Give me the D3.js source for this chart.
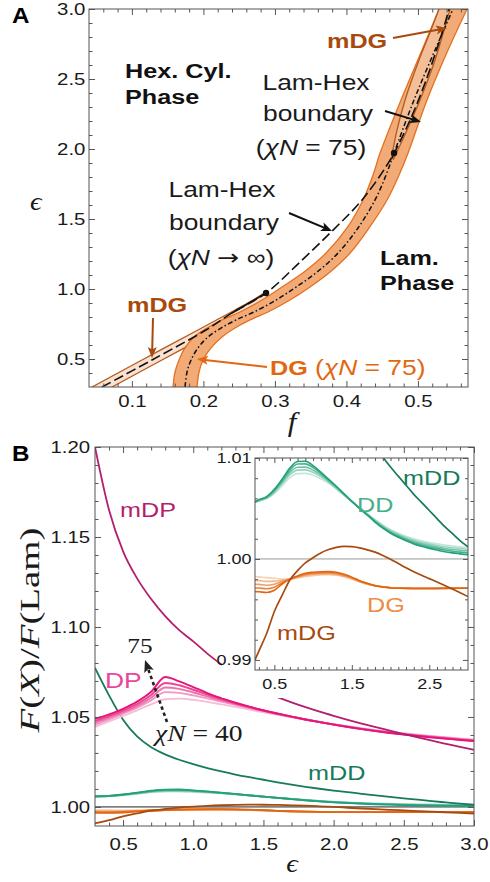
<!DOCTYPE html>
<html><head><meta charset="utf-8">
<script src="https://cdn.jsdelivr.net/npm/d3@7"></script>
<style>body{margin:0;background:#fff}</style>
</head><body>
<svg id="fig" width="490" height="882"></svg>
<script>
// ---------------- Panel A: phase diagram in (f, eps) ----------------
// DG (chiN = 75) stability band: eps levels with left/right bounds in f
const dgEps   = [0.300, 0.407, 0.493, 0.579, 0.657, 0.721, 0.779, 0.836, 0.921, 1.014, 1.121, 1.257, 1.436, 1.636, 1.814, 1.971, 2.350, 2.707, 3.000];
const dgLeft  = [0.1575, 0.1603, 0.1659, 0.1742, 0.1868, 0.2050, 0.2260, 0.2512, 0.2819, 0.3099, 0.3407, 0.3715, 0.4008, 0.4232, 0.4372, 0.4470, 0.4763, 0.5057, 0.5295];
const dgRight = [0.1911, 0.1939, 0.1995, 0.2106, 0.2260, 0.2442, 0.2652, 0.2904, 0.3211, 0.3491, 0.3771, 0.4051, 0.4316, 0.4568, 0.4736, 0.4862, 0.5127, 0.5421, 0.5687];
// Lam-Hex boundary at chiN = 75 (same eps levels)
const lamHex75F = [0.1743, 0.1771, 0.1827, 0.1924, 0.2064, 0.2246, 0.2456, 0.2708, 0.3015, 0.3295, 0.3589, 0.3883, 0.4162, 0.4400, 0.4554, 0.4666, 0.4945, 0.5239, 0.5491];
// Lam-Hex boundary for chiN -> infinity
const lamHexInfEps = [0.300, 0.493, 0.707, 0.829, 0.971, 1.193, 1.421, 1.636, 1.921, 2.207, 2.471, 2.829, 3.000];
const lamHexInfF   = [0.0582, 0.1281, 0.2036, 0.2400, 0.2876, 0.3351, 0.3813, 0.4218, 0.4610, 0.4890, 0.5099, 0.5337, 0.5435];
// mDG bands (lower-left and upper-right)
const mdgLowEps   = [0.300, 0.493, 0.707, 0.850, 0.921, 0.971];
const mdgLowLeft  = [0.0442, 0.1141, 0.1924, 0.2442, 0.2694, 0.2848];
const mdgLowRight = [0.0722, 0.1421, 0.2204, 0.2722, 0.2876, 0.2904];
const mdgHighEps   = [1.921, 2.136, 2.350, 2.636, 2.850, 3.000];
const mdgHighLeft  = [0.4624, 0.4708, 0.4820, 0.5015, 0.5183, 0.5295];
const mdgHighRight = [0.4652, 0.4848, 0.5029, 0.5239, 0.5365, 0.5449];
// marked points on the boundaries
const markF   = [0.2876, 0.4666];
const markEps = [0.971, 1.971];

// ---------------- Panel B: free energy ratios vs eps ----------------
const epsMain = [0.3,0.4,0.5,0.6,0.7,0.8,0.9,1.0,1.1,1.2,1.3,1.4,1.5,1.6,1.7,1.8,1.9,2.0,2.1,2.2,2.3,2.4,2.5,2.6,2.7,2.8,2.9,3.0];
const epsFull = [0.25,0.3,0.4,0.5,0.6,0.7,0.8,0.9,1.0,1.1,1.2,1.3,1.4,1.5,1.6,1.7,1.8,1.9,2.0,2.1,2.2,2.3,2.4,2.5,2.6,2.7,2.8,2.9,3.0];

const mDP = [1.2000, 1.1650, 1.1420, 1.1270, 1.1155, 1.1060, 1.0982, 1.0920, 1.0852, 1.0792, 1.0738, 1.0688, 1.0642, 1.0610, 1.0581, 1.0554, 1.0529, 1.0506, 1.0484, 1.0463, 1.0443, 1.0424, 1.0405, 1.0386, 1.0368, 1.0351, 1.0334, 1.0317];
// DP, chiN from 75 (first) down to 40 (last)
const DP = [
  [1.0489, 1.0514, 1.0545, 1.0585, 1.0640, 1.0722, 1.0698, 1.0666, 1.0633, 1.0604, 1.0579, 1.0557, 1.0537, 1.0519, 1.0502, 1.0486, 1.0471, 1.0457, 1.0444, 1.0432, 1.0421, 1.0411, 1.0402, 1.0394, 1.0386, 1.0379, 1.0372, 1.0366],
  [1.0478, 1.0505, 1.0535, 1.0572, 1.0622, 1.0689, 1.0676, 1.0651, 1.0624, 1.0599, 1.0576, 1.0555, 1.0536, 1.0518, 1.0502, 1.0486, 1.0472, 1.0458, 1.0445, 1.0433, 1.0422, 1.0412, 1.0403, 1.0395, 1.0388, 1.0381, 1.0374, 1.0368],
  [1.0467, 1.0496, 1.0527, 1.0562, 1.0607, 1.0664, 1.0656, 1.0636, 1.0614, 1.0592, 1.0572, 1.0552, 1.0534, 1.0517, 1.0501, 1.0486, 1.0472, 1.0459, 1.0446, 1.0434, 1.0423, 1.0413, 1.0405, 1.0397, 1.0390, 1.0383, 1.0376, 1.0370],
  [1.0456, 1.0486, 1.0518, 1.0552, 1.0592, 1.0638, 1.0634, 1.0620, 1.0603, 1.0585, 1.0567, 1.0549, 1.0532, 1.0516, 1.0501, 1.0486, 1.0472, 1.0459, 1.0447, 1.0435, 1.0425, 1.0415, 1.0407, 1.0399, 1.0392, 1.0385, 1.0378, 1.0372],
  [1.0444, 1.0475, 1.0506, 1.0537, 1.0570, 1.0598, 1.0602, 1.0595, 1.0584, 1.0570, 1.0556, 1.0541, 1.0526, 1.0512, 1.0498, 1.0484, 1.0471, 1.0459, 1.0448, 1.0437, 1.0427, 1.0417, 1.0409, 1.0401, 1.0394, 1.0387, 1.0380, 1.0374]
];
const mDD = [1.0772, 1.0620, 1.0485, 1.0392, 1.0332, 1.0292, 1.0262, 1.0238, 1.0216, 1.0197, 1.0180, 1.0165, 1.0151, 1.0137, 1.0124, 1.0112, 1.0101, 1.0091, 1.0082, 1.0073, 1.0064, 1.0056, 1.0048, 1.0040, 1.0032, 1.0025, 1.0018, 1.0012];
// DD, chiN from 75 down to 40 (on epsFull)
const DD = [
  [1.00567, 1.00585, 1.00617, 1.00690, 1.00790, 1.00900, 1.00965, 1.00968, 1.00925, 1.00860, 1.00790, 1.00720, 1.00645, 1.00570, 1.00500, 1.00435, 1.00365, 1.00305, 1.00255, 1.00215, 1.00180, 1.00148, 1.00125, 1.00105, 1.00088, 1.00072, 1.00060, 1.00050, 1.00040],
  [1.00565, 1.00583, 1.00612, 1.00680, 1.00775, 1.00880, 1.00940, 1.00942, 1.00905, 1.00848, 1.00782, 1.00715, 1.00642, 1.00570, 1.00502, 1.00438, 1.00370, 1.00312, 1.00263, 1.00224, 1.00190, 1.00160, 1.00137, 1.00118, 1.00102, 1.00088, 1.00077, 1.00068, 1.00060],
  [1.00563, 1.00580, 1.00607, 1.00670, 1.00760, 1.00858, 1.00908, 1.00910, 1.00880, 1.00832, 1.00772, 1.00708, 1.00638, 1.00570, 1.00505, 1.00442, 1.00377, 1.00320, 1.00272, 1.00234, 1.00201, 1.00173, 1.00150, 1.00132, 1.00117, 1.00104, 1.00094, 1.00086, 1.00078],
  [1.00561, 1.00577, 1.00602, 1.00660, 1.00745, 1.00835, 1.00880, 1.00882, 1.00858, 1.00815, 1.00762, 1.00700, 1.00634, 1.00570, 1.00508, 1.00446, 1.00384, 1.00328, 1.00281, 1.00244, 1.00212, 1.00186, 1.00164, 1.00147, 1.00133, 1.00121, 1.00111, 1.00103, 1.00096],
  [1.00558, 1.00572, 1.00595, 1.00648, 1.00725, 1.00805, 1.00845, 1.00848, 1.00830, 1.00795, 1.00750, 1.00692, 1.00630, 1.00570, 1.00511, 1.00450, 1.00392, 1.00338, 1.00291, 1.00255, 1.00224, 1.00199, 1.00179, 1.00162, 1.00149, 1.00138, 1.00128, 1.00120, 1.00112]
];
// DG, chiN from 75 down to 40 (on epsFull)
const DG = [
  [0.99676, 0.99675, 0.99668, 0.99690, 0.99752, 0.99800, 0.99832, 0.99858, 0.99868, 0.99873, 0.99874, 0.99868, 0.99848, 0.99820, 0.99785, 0.99759, 0.99736, 0.99723, 0.99713, 0.99710, 0.99709, 0.99708, 0.99708, 0.99708, 0.99708, 0.99709, 0.99709, 0.99710, 0.99710],
  [0.99713, 0.99712, 0.99705, 0.99720, 0.99765, 0.99800, 0.99827, 0.99850, 0.99860, 0.99865, 0.99866, 0.99860, 0.99840, 0.99815, 0.99782, 0.99756, 0.99735, 0.99723, 0.99714, 0.99711, 0.99709, 0.99708, 0.99708, 0.99708, 0.99709, 0.99709, 0.99710, 0.99710, 0.99711],
  [0.99750, 0.99748, 0.99740, 0.99750, 0.99778, 0.99800, 0.99822, 0.99842, 0.99852, 0.99857, 0.99858, 0.99852, 0.99833, 0.99810, 0.99778, 0.99753, 0.99735, 0.99723, 0.99715, 0.99712, 0.99710, 0.99709, 0.99709, 0.99709, 0.99709, 0.99710, 0.99710, 0.99711, 0.99711],
  [0.99786, 0.99785, 0.99778, 0.99780, 0.99790, 0.99800, 0.99817, 0.99833, 0.99843, 0.99849, 0.99850, 0.99845, 0.99828, 0.99805, 0.99775, 0.99752, 0.99734, 0.99723, 0.99715, 0.99712, 0.99710, 0.99709, 0.99709, 0.99709, 0.99709, 0.99710, 0.99710, 0.99711, 0.99712],
  [0.99825, 0.99822, 0.99815, 0.99808, 0.99802, 0.99800, 0.99812, 0.99825, 0.99835, 0.99841, 0.99843, 0.99838, 0.99822, 0.99800, 0.99772, 0.99750, 0.99734, 0.99723, 0.99716, 0.99713, 0.99711, 0.99710, 0.99710, 0.99710, 0.99710, 0.99710, 0.99711, 0.99711, 0.99712]
];
const mDG = [0.99000, 0.99087, 0.99261, 0.99480, 0.99640, 0.99792, 0.99885, 0.99962, 1.00012, 1.00060, 1.00093, 1.00115, 1.00124, 1.00122, 1.00110, 1.00090, 1.00068, 1.00035, 0.99998, 0.99955, 0.99912, 0.99873, 0.99838, 0.99805, 0.99772, 0.99738, 0.99702, 0.99665, 0.99627];

// ---------------- styling ----------------
const SANS = "'Liberation Sans', Arial, Helvetica, sans-serif";
const SERIF = "'Liberation Serif', 'Times New Roman', 'DejaVu Serif', serif";
const SX = 1.2;   // horizontal text stretch
const C = {
  mDP: '#b41e6e', DP: ['#e6157c', '#ea4592', '#ee70aa', '#f397c2', '#f7bcd8'], dpText: '#e8489a',
  mDD: '#177a5c', DD: ['#22a07c', '#48b192', '#71c3a8', '#9ad4bf', '#c3e6d8'], ddText: '#4aae8c',
  mDG: '#a84a0d', DG: ['#e2650f', '#e9833d', '#ee9e65', '#f3b98e', '#f7d1b2'], dgText: '#ef8b45',
  bandFill: '#f2ab76', bandEdge: '#e5701f', lowFill: '#f9e0cf', mdgEdge: '#b35a1e', dgA: '#e3670f'
};

const svg = d3.select('#fig');
const defs = svg.append('defs');
function clip(id, x, y, w, h) {
  defs.append('clipPath').attr('id', id).append('rect').attr('x', x).attr('y', y).attr('width', w).attr('height', h);
  return `url(#${id})`;
}

// parts: plain string, or list of [text, italic, fontFamily?]
function label(g, x, y, parts, o = {}) {
  const t = g.append('text')
    .attr('transform', `translate(${x},${y}) scale(${o.sx ?? SX},1)`)
    .attr('text-anchor', o.anchor || 'start')
    .attr('font-family', o.family || SANS)
    .attr('font-size', o.size || 21)
    .attr('font-weight', o.weight || 'normal')
    .attr('fill', o.color || '#1a1a1a');
  if (typeof parts === 'string') t.text(parts);
  else parts.forEach(([s, it, fam]) => t.append('tspan')
    .attr('font-style', it ? 'italic' : null).attr('font-family', fam || null).text(s));
  return t;
}

function arrow(g, x1, y1, x2, y2, color, o = {}) {
  const w = o.width || 2, L = o.head || 11, H = o.half || 4.5;
  const a = Math.atan2(y2 - y1, x2 - x1), ca = Math.cos(a), sa = Math.sin(a);
  const bx = x2 - L * ca, by = y2 - L * sa, px = -sa, py = ca;
  g.append('line').attr('x1', x1).attr('y1', y1).attr('x2', bx + 3 * ca).attr('y2', by + 3 * sa)
    .attr('stroke', color).attr('stroke-width', w).attr('stroke-dasharray', o.dash || null);
  g.append('path')
    .attr('d', `M${x2},${y2}L${bx + H * px},${by + H * py}L${bx + 2.5 * ca},${by + 2.5 * sa}L${bx - H * px},${by - H * py}Z`)
    .attr('fill', color);
}

function frame(g, x, y, c) {
  const [x0, x1] = x.range(), [yb, yt] = y.range();
  const style = s => { s.select('.domain').remove(); s.attr('color', '#555'); };
  const add = (axis, tx, ty) => g.append('g').attr('transform', `translate(${tx},${ty})`).call(axis).call(style);
  add(d3.axisBottom(x).tickValues(c.xMinor).tickSize(-c.minor).tickFormat(''), 0, yb);
  add(d3.axisTop(x).tickValues(c.xMinor).tickSize(-c.minor).tickFormat(''), 0, yt);
  add(d3.axisLeft(y).tickValues(c.yMinor).tickSize(-c.minor).tickFormat(''), x0, 0);
  add(d3.axisRight(y).tickValues(c.yMinor).tickSize(-c.minor).tickFormat(''), x1, 0);
  const xb = add(d3.axisBottom(x).tickValues(c.xMajor).tickSize(-c.major).tickPadding(c.xPad).tickFormat(c.xFmt), 0, yb);
  add(d3.axisTop(x).tickValues(c.xMajor).tickSize(-c.major).tickFormat(''), 0, yt);
  const yl = add(d3.axisLeft(y).tickValues(c.yMajor).tickSize(-c.major).tickPadding(c.yPad).tickFormat(c.yFmt), x0, 0);
  add(d3.axisRight(y).tickValues(c.yMajor).tickSize(-c.major).tickFormat(''), x1, 0);
  [xb, yl].forEach(a => a.selectAll('text').attr('fill', '#1a1a1a').attr('font-family', SANS)
    .attr('font-size', c.font).attr('transform', `scale(${SX},1)`));
  g.append('rect').attr('x', x0).attr('y', yt).attr('width', x1 - x0).attr('height', yb - yt)
    .attr('fill', 'none').attr('stroke', '#555').attr('stroke-width', 1);
}
const stepList = (a, b, s) => d3.range(Math.round((b - a) / s) + 1).map(i => +(a + i * s).toFixed(4));
const notIn = major => v => !major.some(m => Math.abs(m - v) < 1e-6);

// ======================= Panel A =======================
const xA = d3.scaleLinear().domain([0.04, 0.57]).range([89, 468]);
const yA = d3.scaleLinear().domain([0.3, 3.0]).range([387, 9]);
const gA = svg.append('g');
const plotA = gA.append('g').attr('clip-path', clip('clipA', 89, 9, 379, 378));

const band = (eps, lo, hi) => eps.map((e, i) => ({ e, l: lo[i], r: hi[i] }));
const vArea = d3.area().curve(d3.curveCatmullRom).y(d => yA(d.e)).x0(d => xA(d.l)).x1(d => xA(d.r));
const vLine = key => d3.line().curve(d3.curveCatmullRom).y(d => yA(d.e)).x(d => xA(d[key]));

function drawBand(data, fill, edge, op = 1) {
  plotA.append('path').datum(data).attr('d', vArea).attr('fill', fill).attr('fill-opacity', op);
  ['l', 'r'].forEach(k => plotA.append('path').datum(data).attr('d', vLine(k))
    .attr('fill', 'none').attr('stroke', edge).attr('stroke-width', 1.3));
}
drawBand(band(mdgLowEps, mdgLowLeft, mdgLowRight), C.lowFill, C.mdgEdge);
drawBand(band(dgEps, dgLeft, dgRight), C.bandFill, C.bandEdge);
drawBand(band(mdgHighEps, mdgHighLeft, mdgHighRight), '#f4c29c', C.mdgEdge, 0.85);

const ptLine = d3.line().curve(d3.curveCatmullRom).x(d => xA(d.f)).y(d => yA(d.e));
const infPts = lamHexInfEps.map((e, i) => ({ e, f: lamHexInfF[i] }));
plotA.append('path').datum(infPts).attr('d', ptLine).attr('fill', 'none')
  .attr('stroke', '#111').attr('stroke-width', 1.6).attr('stroke-dasharray', '10,4');
plotA.append('path').datum(infPts.filter(d => d.e >= 0.82 && d.e <= 0.98)).attr('d', ptLine).attr('fill', 'none')
  .attr('stroke', '#111').attr('stroke-width', 1.6);
plotA.append('path').datum(dgEps.map((e, i) => ({ e, f: lamHex75F[i] }))).attr('d', ptLine).attr('fill', 'none')
  .attr('stroke', '#111').attr('stroke-width', 1.5).attr('stroke-dasharray', '5,2.5,1.5,2.5');
plotA.selectAll('circle.mark').data(markF).join('circle').attr('class', 'mark')
  .attr('cx', d => xA(d)).attr('cy', (d, i) => yA(markEps[i])).attr('r', 3.2).attr('fill', '#111');

frame(gA, xA, yA, {
  xMajor: [0.1, 0.2, 0.3, 0.4, 0.5], xMinor: stepList(0.06, 0.56, 0.02).filter(notIn([0.1, 0.2, 0.3, 0.4, 0.5])),
  yMajor: [0.5, 1.0, 1.5, 2.0, 2.5, 3.0], yMinor: stepList(0.4, 2.9, 0.1).filter(notIn([0.5, 1, 1.5, 2, 2.5])),
  major: 6, minor: 3.5, xPad: 8, yPad: 3, xFmt: d3.format('.1f'), yFmt: d3.format('.1f'), font: 17
});

label(gA, 12, 23, 'A', { weight: 'bold', size: 22, sx: 1.1, color: '#000' });
label(gA, 30, 210, [['ϵ', true]], { family: SERIF, size: 26, sx: 1.1 });
label(gA, 292, 431, [['f', true]], { family: SERIF, size: 28, anchor: 'middle', sx: 1.1 });

label(gA, 125, 78, 'Hex. Cyl.', { weight: 'bold', size: 21, color: '#111' });
label(gA, 125, 104, 'Phase', { weight: 'bold', size: 21, color: '#111' });
label(gA, 380, 265, 'Lam.', { weight: 'bold', size: 21, color: '#111' });
label(gA, 380, 290, 'Phase', { weight: 'bold', size: 21, color: '#111' });

label(gA, 316, 90, 'Lam-Hex', { anchor: 'middle', size: 22 });
label(gA, 318, 121, 'boundary', { anchor: 'middle', size: 22 });
label(gA, 311, 155, [['(', 0], ['χN', 1], [' = 75)', 0]], { anchor: 'middle', size: 22 });
arrow(gA, 385, 111, 421, 122, '#111');

label(gA, 222, 197, 'Lam-Hex', { anchor: 'middle', size: 22 });
label(gA, 224, 230, 'boundary', { anchor: 'middle', size: 22 });
label(gA, 221, 265, [['(', 0], ['χN', 1], [' ', 0], ['→', 0, "'DejaVu Sans', sans-serif"], [' ∞)', 0]], { anchor: 'middle', size: 22 });
arrow(gA, 289, 213, 332, 231, '#111');

label(gA, 327, 48, 'mDG', { weight: 'bold', color: C.mDG });
arrow(gA, 393, 38, 447, 28, C.mDG);
label(gA, 127, 312, 'mDG', { weight: 'bold', color: C.mDG });
arrow(gA, 153, 318, 152, 358, C.mDG);
label(gA, 270, 375, 'DG', { weight: 'bold', color: C.dgA });
label(gA, 315, 375, [['(', 0], ['χN', 1], [' = 75)', 0]], { color: C.dgA, size: 22 });
arrow(gA, 267, 367, 197, 359, C.dgA);

// ======================= Panel B =======================
const xB = d3.scaleLinear().domain([0.3, 3.0]).range([95, 474]);
const yB = d3.scaleLinear().domain([0.9894, 1.2]).range([826, 447]);
const gB = svg.append('g');
const plotB = gB.append('g').attr('clip-path', clip('clipB', 95, 447, 379, 379));
const lineB = eps => d3.line().curve(d3.curveMonotoneX).x((d, i) => xB(eps[i])).y(d => yB(d));

plotB.append('line').attr('x1', 95).attr('x2', 474).attr('y1', yB(1)).attr('y2', yB(1))
  .attr('stroke', '#222').attr('stroke-width', 1);
function curves(g, ln, sets, colors, w) {
  sets.map((v, i) => [v, colors[i]]).reverse().forEach(([v, col]) =>
    g.append('path').datum(v).attr('d', ln).attr('fill', 'none').attr('stroke', col).attr('stroke-width', w));
}
curves(plotB, lineB(epsFull), DG, C.DG, 1.8);
curves(plotB, lineB(epsFull), DD, C.DD, 1.8);
plotB.append('path').datum(mDG).attr('d', lineB(epsFull)).attr('fill', 'none').attr('stroke', C.mDG).attr('stroke-width', 1.8);
plotB.append('path').datum(mDD).attr('d', lineB(epsMain)).attr('fill', 'none').attr('stroke', C.mDD).attr('stroke-width', 1.8);
curves(plotB, lineB(epsMain), DP, C.DP, 1.9);
plotB.append('path').datum(mDP).attr('d', lineB(epsMain)).attr('fill', 'none').attr('stroke', C.mDP).attr('stroke-width', 1.8);

frame(gB, xB, yB, {
  xMajor: [0.5, 1.0, 1.5, 2.0, 2.5, 3.0], xMinor: stepList(0.4, 2.9, 0.1).filter(notIn([0.5, 1, 1.5, 2, 2.5])),
  yMajor: [1.0, 1.05, 1.1, 1.15, 1.2], yMinor: stepList(1.01, 1.19, 0.01).filter(notIn([1.05, 1.1, 1.15])),
  major: 6, minor: 3.5, xPad: 12, yPad: 4, xFmt: d3.format('.1f'), yFmt: d3.format('.2f'), font: 17
});

label(gB, 12, 461, 'B', { weight: 'bold', size: 22, sx: 1.1, color: '#000' });
gB.append('text').attr('transform', 'translate(39,630) rotate(-90)').attr('text-anchor', 'middle')
  .attr('font-family', SERIF).attr('font-size', 27).attr('fill', '#1a1a1a')
  .attr('textLength', 205).attr('lengthAdjust', 'spacingAndGlyphs')
  .call(t => [['F', 1], ['(', 0], ['X', 1], [')/', 0], ['F', 1], ['(Lam)', 0]]
    .forEach(([s, it]) => t.append('tspan').attr('font-style', it ? 'italic' : null).text(s)));
label(gB, 292, 872, [['ϵ', true]], { family: SERIF, size: 26, anchor: 'middle', sx: 1.1 });

label(gB, 120, 517, 'mDP', { color: C.mDP });
label(gB, 105, 688, 'DP', { color: C.dpText, size: 22 });
label(gB, 308, 780, 'mDD', { color: C.mDD });
label(gB, 140, 653, '75', { family: SERIF, size: 22, anchor: 'middle', sx: 1.15 });
label(gB, 155, 741, [['χN', 1], [' = 40', 0]], { family: SERIF, size: 24, sx: 1.15 });
arrow(gB, 167, 722, 145, 660, '#222', { width: 2.6, dash: '3.5,3', head: 12, half: 5 });

// ---- inset ----
const xI = d3.scaleLinear().domain([0.25, 3.0]).range([255, 468]);
const yI = d3.scaleLinear().domain([0.989, 1.01]).range([670, 458]);
const gI = svg.append('g');
gI.append('rect').attr('x', 222).attr('y', 455).attr('width', 246).attr('height', 243).attr('fill', '#fff');
const plotI = gI.append('g').attr('clip-path', clip('clipI', 255, 458, 213, 212));
const lineI = eps => d3.line().curve(d3.curveMonotoneX).x((d, i) => xI(eps[i])).y(d => yI(d));
plotI.append('line').attr('x1', 255).attr('x2', 468).attr('y1', yI(1)).attr('y2', yI(1))
  .attr('stroke', '#999').attr('stroke-width', 1);
curves(plotI, lineI(epsFull), DD, C.DD, 1.6);
curves(plotI, lineI(epsFull), DG, C.DG, 1.6);
plotI.append('path').datum(mDD).attr('d', lineI(epsMain)).attr('fill', 'none').attr('stroke', C.mDD).attr('stroke-width', 1.7);
plotI.append('path').datum(mDG).attr('d', lineI(epsFull)).attr('fill', 'none').attr('stroke', C.mDG).attr('stroke-width', 1.7);

frame(gI, xI, yI, {
  xMajor: [0.5, 1.5, 2.5], xMinor: stepList(0.3, 2.9, 0.1).filter(notIn([0.5, 1.5, 2.5])),
  yMajor: [0.99, 1.0, 1.01], yMinor: stepList(0.99, 1.008, 0.002).filter(notIn([0.99, 1.0])),
  major: 5, minor: 3, xPad: 8, yPad: 3, xFmt: d3.format('.1f'), yFmt: d3.format('.2f'), font: 15
});
label(gI, 403, 485, 'mDD', { color: C.mDD });
label(gI, 357, 512, 'DD', { color: C.ddText });
label(gI, 367, 612, 'DG', { color: C.dgText });
label(gI, 277, 640, 'mDG', { color: C.mDG });
</script>
</body></html>
